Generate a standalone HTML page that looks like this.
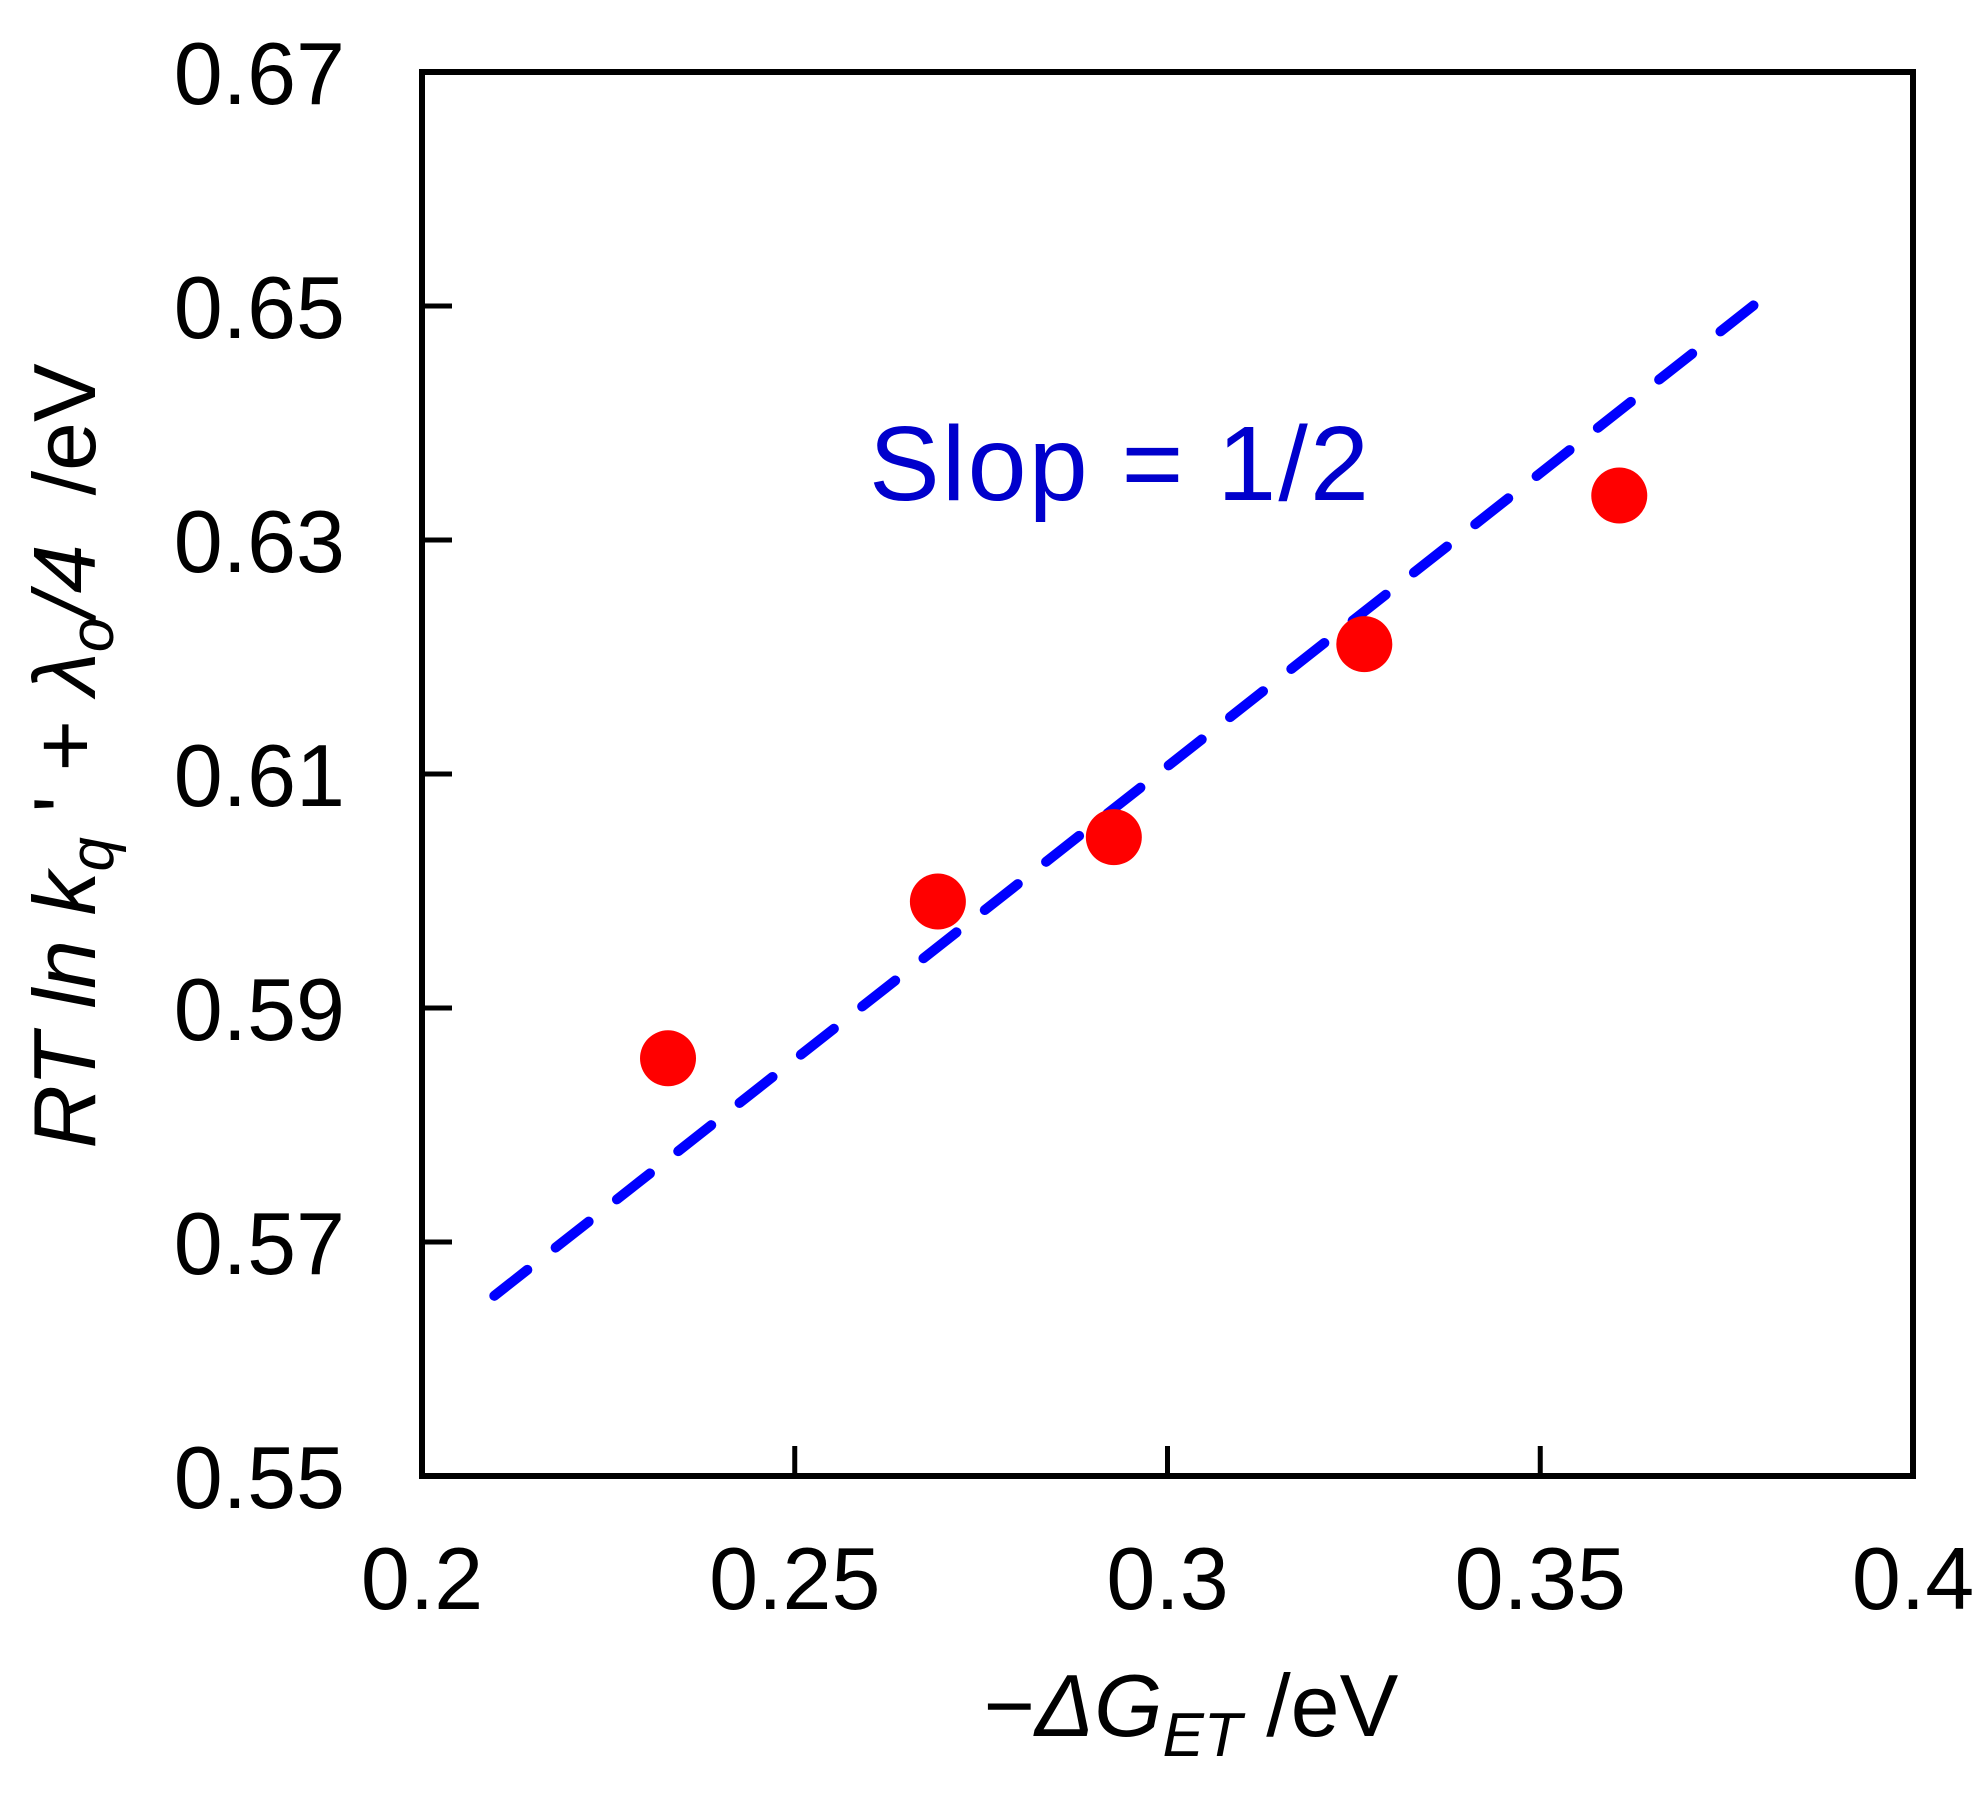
<!DOCTYPE html>
<html><head><meta charset="utf-8"><style>
html,body{margin:0;padding:0;background:#fff;}
svg{display:block;}
text{font-family:"Liberation Sans",Arial,sans-serif;}
</style></head><body>
<svg id="chart" width="1987" height="1794" viewBox="0 0 1987 1794" xmlns="http://www.w3.org/2000/svg">
<rect x="422" y="72" width="1491" height="1404" fill="none" stroke="#000" stroke-width="6"/>
<g id="xticks"></g>
<g id="yticks"></g>
<g id="fit"></g>
<g id="pts"></g>
<text x="869" y="500" font-size="106" fill="#0000cc" textLength="500">Slop = 1/2</text>
<text transform="translate(95,756) rotate(-90)" text-anchor="middle" font-size="88" fill="#000"><tspan font-style="italic">RT ln k</tspan><tspan font-style="italic" font-size="62" dy="18">q</tspan><tspan dy="-18"> ' + </tspan><tspan font-style="italic">λ</tspan><tspan font-style="italic" font-size="62" dy="18">o</tspan><tspan font-style="italic" dy="-18">/4</tspan><tspan xml:space="preserve">  /eV</tspan></text>
<text x="1191" y="1736" text-anchor="middle" font-size="88" fill="#000">−<tspan font-style="italic">ΔG</tspan><tspan font-style="italic" font-size="62" dy="20">ET</tspan><tspan dy="-20"> /eV</tspan></text>
</svg>
<script>
const xTicks = [0.2, 0.25, 0.3, 0.35, 0.4];
const xTickLabels = ["0.2", "0.25", "0.3", "0.35", "0.4"];
const yTicks = [0.55, 0.57, 0.59, 0.61, 0.63, 0.65, 0.67];
const yTickLabels = ["0.55", "0.57", "0.59", "0.61", "0.63", "0.65", "0.67"];
const pointX = [0.233, 0.2692, 0.2928, 0.3264, 0.3606];
const pointY = [0.5857, 0.5991, 0.6046, 0.6211, 0.6338];
const fitX = [0.2097, 0.3805];
const fitY = [0.5654, 0.6510];

const L = 422, R = 1913, T = 72, B = 1476;
const sx = v => L + (v - 0.2) / 0.2 * (R - L);
const sy = v => B - (v - 0.55) / 0.12 * (B - T);
const NS = "http://www.w3.org/2000/svg";
function mk(tag, attrs, parent) {
  const e = document.createElementNS(NS, tag);
  for (const k in attrs) e.setAttribute(k, attrs[k]);
  parent.appendChild(e);
  return e;
}
const gx = document.getElementById('xticks');
xTicks.forEach((v, i) => {
  const x = sx(v);
  if (i > 0 && i < xTicks.length - 1) {
    const t = mk('line', {x1: x, x2: x, y1: B, y2: B - 30, stroke: '#000', 'stroke-width': 5}, gx);
    
    
  }
  const lb = mk('text', {x: x, y: 1609, 'text-anchor': 'middle', 'font-size': 88, fill: '#000'}, gx);
  lb.textContent = xTickLabels[i];
  
  
});
const gy = document.getElementById('yticks');
yTicks.forEach((v, i) => {
  const y = sy(v);
  if (i > 0 && i < yTicks.length - 1) {
    const t = mk('line', {x1: L, x2: L + 30, y1: y, y2: y, stroke: '#000', 'stroke-width': 5}, gy);
    
    
  }
  const lb = mk('text', {x: 345, y: y + 32, 'text-anchor': 'end', 'font-size': 88, fill: '#000'}, gy);
  lb.textContent = yTickLabels[i];
  
  
});
const gf = document.getElementById('fit');
const fl = mk('line', {x1: sx(fitX[0]), y1: sy(fitY[0]), x2: sx(fitX[1]), y2: sy(fitY[1]), stroke: '#0000ff', 'stroke-width': 10, 'stroke-dasharray': '42 36', 'stroke-linecap': 'round'}, gf);


const gp = document.getElementById('pts');
pointX.forEach((v, i) => {
  const c = mk('circle', {cx: sx(v), cy: sy(pointY[i]), r: 28, fill: '#ff0000'}, gp);
  
  
});
</script>
</body></html>
